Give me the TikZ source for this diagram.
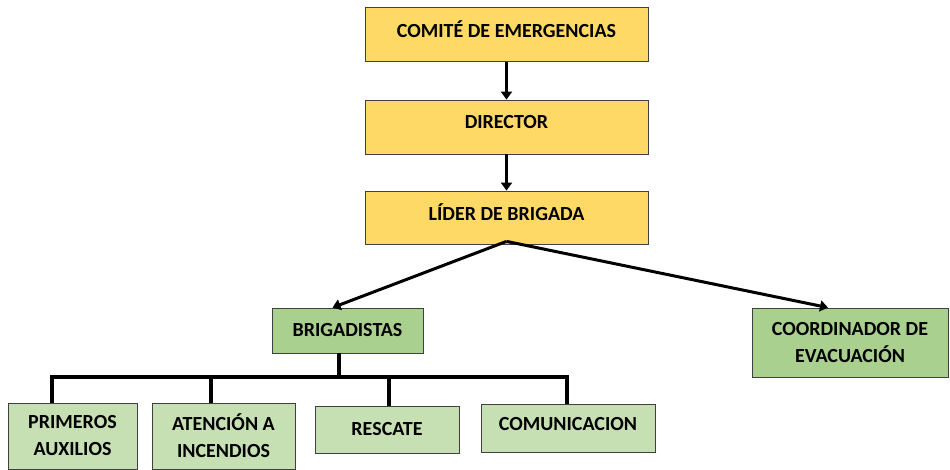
\documentclass[tikz,border=0pt]{standalone}
\usepackage{fontspec}
\setmainfont{Carlito}
\usetikzlibrary{arrows.meta}
\definecolor{boxyellow}{RGB}{255,217,102}
\definecolor{boxgreen}{RGB}{169,208,142}
\definecolor{palegreen}{RGB}{198,224,180}
\definecolor{boxedge}{RGB}{64,64,64}

\begin{document}
\begin{tikzpicture}[
  x=1pt, y=-1pt,
  yellowbox/.style={rectangle, draw=boxedge, fill=boxyellow, line width=0.8pt,
                    font=\bfseries\fontsize{20}{27}\selectfont, align=center,
                    inner sep=0pt, text depth=11pt},
  greenbox/.style={rectangle, draw=boxedge, fill=boxgreen, line width=0.8pt,
                   font=\bfseries\fontsize{20}{27}\selectfont, align=center,
                   inner sep=0pt},
  subbox/.style={rectangle, draw=boxedge, fill=palegreen, line width=0.8pt,
                 font=\bfseries\fontsize{20}{27}\selectfont, align=center,
                 inner sep=0pt},
  arr/.style={line width=3.5pt, -{Triangle[length=8pt,width=11pt]}},
  busline/.style={line width=4pt, line join=miter}
]
  \useasboundingbox (0,0) rectangle (950,470);

  \node[yellowbox, minimum width=283pt, minimum height=54pt] (comite)   at (506.5, 34.5) {COMITÉ DE EMERGENCIAS};
  \node[yellowbox, minimum width=283pt, minimum height=54pt] (director) at (506.5, 127)  {DIRECTOR};
  \node[yellowbox, minimum width=283pt, minimum height=53pt] (lider)    at (506.5, 217.5) {LÍDER DE BRIGADA};

  \node[greenbox, minimum width=151pt, minimum height=45pt] (brig)  at (347.5, 330.5) {BRIGADISTAS};
  \node[greenbox, minimum width=196pt, minimum height=69pt] (coord) at (850, 342.5)   {COORDINADOR DE\\EVACUACIÓN};

  \node[subbox, minimum width=129pt, minimum height=66pt] (prim) at (72.5, 436)  {PRIMEROS\\AUXILIOS};
  \node[subbox, minimum width=143pt, minimum height=66pt] (aten) at (223.5, 436) {ATENCIÓN A\\INCENDIOS};
  \node[subbox, minimum width=144pt, minimum height=47pt] (resc) at (387, 429.5) {RESCATE};
  \node[subbox, minimum width=174pt, minimum height=48pt, text depth=9pt] (comu) at (568, 428) {COMUNICACION};

  \draw[arr] (comite) -- (director);
  \draw[arr] (director) -- (lider);

  \coordinate (apex) at ([yshift=3pt]lider.south);
  \draw[arr, line width=3pt] (apex) -- ([xshift=-15pt]brig.north);
  \draw[arr, line width=3pt] (apex) -- ([xshift=-22pt]coord.north);

  \coordinate (bus) at ([xshift=-8.5pt, yshift=-24pt]brig.south);
  \draw[busline] ([xshift=-8.5pt]brig.south) -- (bus);
  \foreach \n/\dx in {prim/-20.5, aten/-12.5, resc/2, comu/-1} {
    \draw[busline] ([xshift=\dx pt]\n.north) |- (bus);
  }
\end{tikzpicture}
\end{document}
